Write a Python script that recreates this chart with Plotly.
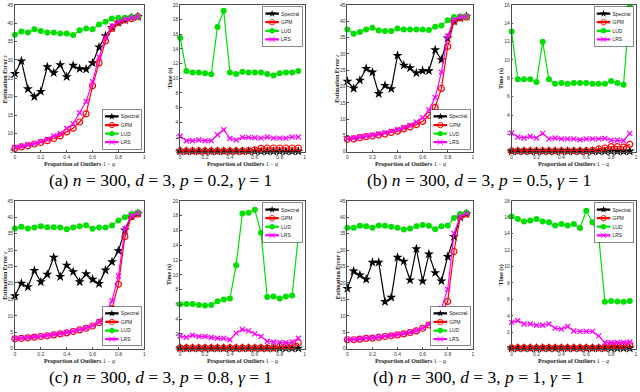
import json
import plotly.graph_objects as go

# outlier proportions 1 - q
x_vals = [0, 0.05, 0.1, 0.15, 0.2, 0.25, 0.3, 0.35, 0.4, 0.45,
          0.5, 0.55, 0.6, 0.65, 0.7, 0.75, 0.8, 0.85, 0.9, 0.95]

methods = ["Spectral", "GPM", "LUD", "LRS"]

# (a) p = 0.2 : estimation error
err_a_spectral = [26.3, 29.7, 22.1, 20.0, 21.4, 28.1, 26.5, 28.7, 25.4, 28.5,
                  27.6, 27.5, 29.2, 33.5, 36.6, 38.8, 40.2, 40.9, 41.5, 41.8]
err_a_gpm = [5.9, 6.3, 6.6, 7.1, 7.5, 8.0, 8.6, 9.3, 10.4, 11.4,
             13.1, 15.3, 23.0, 29.2, 35.2, 38.6, 40.2, 40.9, 41.3, 41.8]
err_a_lud = [36.9, 37.8, 37.5, 38.4, 37.9, 37.5, 37.5, 37.2, 37.2, 36.8,
             38.1, 38.6, 38.4, 39.7, 40.4, 41.3, 41.5, 41.5, 41.8, 41.8]
err_a_lrs = [6.2, 6.5, 6.9, 7.2, 7.7, 8.4, 9.3, 9.9, 11.3, 12.6,
             15.6, 18.7, 24.1, 30.8, 36.1, 39.3, 40.4, 41.1, 41.5, 41.8]
# (a) p = 0.2 : time
time_a_spectral = [0.05, 0.05, 0.05, 0.05, 0.05, 0.05, 0.05, 0.05, 0.05, 0.05,
                   0.05, 0.05, 0.05, 0.05, 0.05, 0.05, 0.05, 0.05, 0.05, 0.05]
time_a_gpm = [0.1, 0.1, 0.1, 0.1, 0.1, 0.1, 0.1, 0.1, 0.1, 0.1,
              0.1, 0.15, 0.25, 0.45, 0.5, 0.5, 0.5, 0.5, 0.5, 0.5]
time_a_lud = [15.5, 11.0, 10.8, 10.8, 10.7, 10.55, 17.0, 19.2, 10.8, 10.6,
              10.9, 10.8, 10.8, 10.8, 10.6, 10.4, 10.7, 10.8, 10.8, 11.0]
time_a_lrs = [2.1, 1.5, 1.5, 1.6, 1.5, 1.5, 2.3, 3.0, 1.8, 1.6,
              1.95, 1.95, 1.9, 1.85, 2.0, 1.85, 1.85, 1.85, 2.0, 2.0]

# (b) p = 0.5
err_b_spectral = [21.6, 19.4, 21.9, 25.5, 24.4, 17.8, 20.3, 19.3, 29.5, 26.5,
                  25.7, 24.1, 24.8, 24.8, 31.2, 28.2, 34.8, 40.0, 41.0, 41.5]
err_b_gpm = [3.8, 3.9, 4.3, 4.6, 4.8, 5.1, 5.4, 5.9, 6.3, 7.0,
             7.6, 8.3, 9.3, 11.1, 13.6, 19.4, 32.3, 40.0, 41.0, 41.3]
err_b_lud = [37.5, 36.2, 36.7, 37.5, 38.0, 37.2, 37.0, 37.0, 37.8, 37.5,
             37.5, 37.5, 37.5, 37.3, 38.3, 38.7, 40.3, 41.3, 41.5, 41.5]
err_b_lrs = [4.0, 4.2, 4.6, 4.8, 5.1, 5.4, 5.8, 6.3, 6.8, 7.4,
             8.1, 9.1, 10.4, 12.8, 16.6, 24.4, 35.5, 40.5, 41.3, 41.5]
time_b_spectral = [0.05, 0.05, 0.05, 0.05, 0.05, 0.05, 0.05, 0.05, 0.05, 0.05,
                   0.05, 0.05, 0.05, 0.05, 0.05, 0.05, 0.05, 0.05, 0.05, 0.05]
time_b_gpm = [0.1, 0.1, 0.1, 0.1, 0.1, 0.1, 0.1, 0.1, 0.1, 0.1,
              0.1, 0.1, 0.1, 0.15, 0.3, 0.4, 0.55, 0.55, 0.5, 0.8]
time_b_lud = [13.1, 7.9, 7.9, 7.9, 7.6, 12.0, 7.9, 7.4, 7.5, 7.4,
              7.5, 7.5, 7.5, 7.4, 7.4, 7.4, 7.7, 7.5, 7.3, 15.8]
time_b_lrs = [2.05, 1.6, 1.5, 1.65, 1.5, 2.0, 1.4, 1.5, 1.4, 1.4,
              1.4, 1.3, 1.4, 1.4, 1.4, 1.45, 1.25, 1.25, 1.2, 2.0]

# (c) p = 0.8
err_c_spectral = [16.1, 19.9, 18.8, 23.8, 20.3, 22.6, 27.8, 21.9, 25.4, 23.4,
                  20.3, 22.8, 21.1, 19.8, 23.9, 26.4, 29.8, 36.1, 40.3, 41.2]
err_c_gpm = [3.0, 3.1, 3.3, 3.5, 3.7, 3.9, 4.2, 4.5, 4.8, 5.2,
             5.7, 6.2, 6.9, 7.9, 9.5, 12.2, 19.6, 34.1, 40.2, 41.0]
err_c_lud = [36.6, 37.1, 36.6, 36.9, 37.3, 37.0, 37.0, 36.9, 36.4, 36.9,
             37.3, 37.6, 36.5, 36.9, 36.9, 37.5, 39.0, 40.0, 41.0, 41.5]
err_c_lrs = [3.1, 3.2, 3.4, 3.6, 3.8, 4.0, 4.3, 4.6, 4.9, 5.3,
             5.8, 6.3, 7.0, 8.2, 10.7, 14.6, 22.1, 36.6, 40.5, 41.3]
time_c_spectral = [0.05, 0.05, 0.05, 0.05, 0.05, 0.05, 0.05, 0.05, 0.05, 0.05,
                   0.05, 0.05, 0.05, 0.05, 0.05, 0.05, 0.05, 0.05, 0.05, 0.05]
time_c_gpm = [0.1, 0.1, 0.1, 0.1, 0.1, 0.1, 0.1, 0.1, 0.1, 0.1,
              0.1, 0.1, 0.1, 0.1, 0.1, 0.1, 0.3, 0.35, 0.4, 0.8]
time_c_lud = [6.0, 6.05, 6.05, 5.9, 5.85, 5.9, 6.4, 6.65, 6.8, 11.3,
              18.3, 18.4, 18.8, 15.7, 7.0, 7.05, 6.8, 7.05, 7.2, 15.3]
time_c_lrs = [1.7, 1.55, 1.8, 1.65, 1.65, 1.5, 1.4, 1.4, 1.2, 2.1,
              2.6, 2.4, 2.0, 1.65, 1.0, 0.9, 0.85, 0.8, 0.9, 1.4]

# (d) p = 1
err_d_spectral = [18.3, 23.6, 22.4, 21.1, 26.3, 26.3, 14.3, 15.6, 27.8, 26.6,
                  20.9, 30.4, 20.6, 28.8, 23.1, 20.6, 28.0, 34.1, 40.0, 41.0]
err_d_gpm = [2.7, 2.7, 2.9, 3.1, 3.2, 3.4, 3.7, 3.9, 4.2, 4.5,
             4.9, 5.4, 6.2, 7.2, 8.7, 10.7, 14.4, 29.6, 40.2, 41.0]
err_d_lud = [36.8, 36.8, 37.4, 37.3, 36.8, 37.5, 37.4, 37.1, 36.8, 36.3,
             36.6, 37.3, 37.7, 37.4, 36.4, 37.3, 37.5, 39.8, 41.0, 41.5]
err_d_lrs = [2.8, 2.8, 3.0, 3.2, 3.3, 3.5, 3.8, 4.0, 4.3, 4.6,
             5.0, 5.5, 6.3, 7.4, 9.2, 12.2, 18.1, 35.1, 40.3, 41.2]
time_d_spectral = [0.05, 0.05, 0.05, 0.05, 0.05, 0.05, 0.05, 0.05, 0.05, 0.05,
                   0.05, 0.05, 0.05, 0.05, 0.05, 0.05, 0.05, 0.05, 0.05, 0.05]
time_d_gpm = [0.1, 0.1, 0.1, 0.1, 0.1, 0.1, 0.1, 0.1, 0.1, 0.1,
              0.1, 0.1, 0.1, 0.1, 0.1, 0.1, 0.4, 0.4, 0.4, 0.5]
time_d_lud = [16.1, 15.8, 15.5, 15.6, 15.8, 15.5, 15.4, 15.0, 15.2, 15.0,
              15.2, 14.7, 16.8, 15.4, 13.7, 5.7, 5.8, 5.75, 5.7, 5.8]
time_d_lrs = [3.2, 3.4, 3.0, 3.0, 2.85, 2.85, 3.0, 2.5, 2.4, 2.7,
              2.15, 2.1, 2.1, 2.1, 1.55, 0.75, 0.75, 0.75, 0.75, 0.8]

captions = ["(a) <i>n</i> = 300, <i>d</i> = 3, <i>p</i> = 0.2, <i>γ</i> = 1",
            "(b) <i>n</i> = 300, <i>d</i> = 3, <i>p</i> = 0.5, <i>γ</i> = 1",
            "(c) <i>n</i> = 300, <i>d</i> = 3, <i>p</i> = 0.8, <i>γ</i> = 1",
            "(d) <i>n</i> = 300, <i>d</i> = 3, <i>p</i> = 1, <i>γ</i> = 1"]

W, H = 640, 392
serif = "Liberation Serif"
axis_col = "#4d4d4d"
legend_scale = 0.45  # plotly legend rows can't go below ~19px, so shrink them afterwards

styles = {
    "Spectral": dict(color="black", marker=dict(symbol="star", size=7.5, color="black")),
    "GPM": dict(color="red", marker=dict(symbol="circle-open", size=6, color="red",
                                           line=dict(width=1.2, color="red"))),
    "LUD": dict(color="#00e000", marker=dict(symbol="circle", size=6, color="#00e000")),
    "LRS": dict(color="magenta", marker=dict(symbol="x-thin-open", size=5, color="magenta",
                                               line=dict(width=1.3, color="magenta"))),
}

# panels: (series, pixel box left, right, top, bottom, y range, dtick, legend corner, is_time)
panels = [
    ([err_a_spectral, err_a_gpm, err_a_lud, err_a_lrs], 14, 144, 2, 151, [5, 45], 5, "bottom", False),
    ([time_a_spectral, time_a_gpm, time_a_lud, time_a_lrs], 180, 305, 2, 151, [0, 20], 2, "top", True),
    ([err_b_spectral, err_b_gpm, err_b_lud, err_b_lrs], 348, 474, 2, 151, [0, 45], 5, "bottom", False),
    ([time_b_spectral, time_b_gpm, time_b_lud, time_b_lrs], 513, 638, 2, 151, [0, 16], 2, "top", True),
    ([err_c_spectral, err_c_gpm, err_c_lud, err_c_lrs], 14, 144, 201, 351, [0, 45], 5, "bottom", False),
    ([time_c_spectral, time_c_gpm, time_c_lud, time_c_lrs], 180, 305, 201, 351, [0, 20], 2, "top", True),
    ([err_d_spectral, err_d_gpm, err_d_lud, err_d_lrs], 348, 474, 201, 351, [0, 45], 5, "bottom", False),
    ([time_d_spectral, time_d_gpm, time_d_lud, time_d_lrs], 513, 638, 201, 351, [0, 18], 2, "top", True),
]

fig = go.Figure()
layout = dict(width=W, height=H, margin=dict(l=0, r=0, t=0, b=0),
              plot_bgcolor="white", paper_bgcolor="white", annotations=[])
legend_anchor = {}

for i, (series, left, right, top, bottom, yr, dt, corner, is_time) in enumerate(panels):
    n = "" if i == 0 else str(i + 1)
    leg = "legend" + n
    legend_anchor[leg] = corner
    for name, vals in zip(methods, series):
        st = styles[name]
        fig.add_trace(go.Scatter(
            x=x_vals, y=vals, name=name, mode="lines+markers",
            line=dict(color=st["color"], width=1.2), marker=st["marker"],
            xaxis="x" + n, yaxis="y" + n, legend=leg, cliponaxis=False))
    xd = [left / W, right / W]
    yd = [1 - bottom / H, 1 - top / H]
    ax_common = dict(showline=True, mirror=True, linecolor=axis_col, linewidth=0.8,
                     ticks="inside", ticklen=2, tickcolor=axis_col, showgrid=False,
                     zeroline=False, tickfont=dict(size=5, color="#333", family="Liberation Sans"))
    layout["xaxis" + n] = dict(domain=xd, range=[0, 1], tickvals=[0, 0.2, 0.4, 0.6, 0.8, 1],
                               anchor="y" + n, **ax_common)
    layout["yaxis" + n] = dict(domain=yd, range=yr, dtick=dt, anchor="x" + n, **ax_common)
    ly = yd[0] + 0.004 if corner == "bottom" else yd[1] - 0.004
    layout[leg] = dict(x=xd[1] - 0.002, y=ly, xanchor="right", yanchor=corner,
                       xref="paper", yref="paper",
                       font=dict(size=11, family="Liberation Sans", color="#222"),
                       bgcolor="white", bordercolor="#444", borderwidth=1.4,
                       tracegroupgap=0, itemwidth=30, itemsizing="constant")
    # axis titles
    layout["annotations"].append(dict(
        x=(xd[0] + xd[1]) / 2, y=1 - (bottom + 13) / H, xref="paper", yref="paper",
        xanchor="center", yanchor="middle",
        text="<b>Proportion of Outliers</b> 1 − <i>q</i>", showarrow=False,
        font=dict(size=6, family=serif, color="#222")))
    ytitle = "<b>Time (s)</b>" if is_time else "<b>Estimation Error</b> <i>ε</i>"
    layout["annotations"].append(dict(
        x=(left - 10) / W, y=(yd[0] + yd[1]) / 2, xref="paper", yref="paper",
        xanchor="center", yanchor="middle",
        text=ytitle, textangle=-90, showarrow=False,
        font=dict(size=6, family=serif, color="#222")))

for j, cap in enumerate(captions):
    layout["annotations"].append(dict(
        x=(160 if j % 2 == 0 else 480) / W, y=1 - (180 if j < 2 else 380) / H,
        xref="paper", yref="paper", xanchor="center", yanchor="middle",
        text=cap, showarrow=False,
        font=dict(size=17.5, family=serif, color="black")))

fig.update_layout(**layout)

# drop the page margin, then shrink each legend around its anchored corner
shrink_js = """
document.body.style.margin = '0';
var gd = document.getElementById('{plot_id}');
var s = %s;
var anchors = %s;
Object.keys(anchors).forEach(function(id) {
  var g = gd.querySelector('g.' + id);
  if (!g) return;
  var m = /translate\\(\\s*([-\\d.e]+)[\\s,]+([-\\d.e]+)\\s*\\)/.exec(g.getAttribute('transform') || '');
  var r = g.querySelector('rect.bg');
  if (!m || !r) return;
  var x = parseFloat(m[1]), y = parseFloat(m[2]);
  var w = parseFloat(r.getAttribute('width')), h = parseFloat(r.getAttribute('height'));
  var nx = x + w * (1 - s);
  var ny = anchors[id] === 'bottom' ? y + h * (1 - s) : y;
  g.setAttribute('transform', 'translate(' + nx + ',' + ny + ') scale(' + s + ')');
});
""" % (legend_scale, json.dumps(legend_anchor))

fig.write_html("out.html", post_script=shrink_js, config={"displayModeBar": False})
